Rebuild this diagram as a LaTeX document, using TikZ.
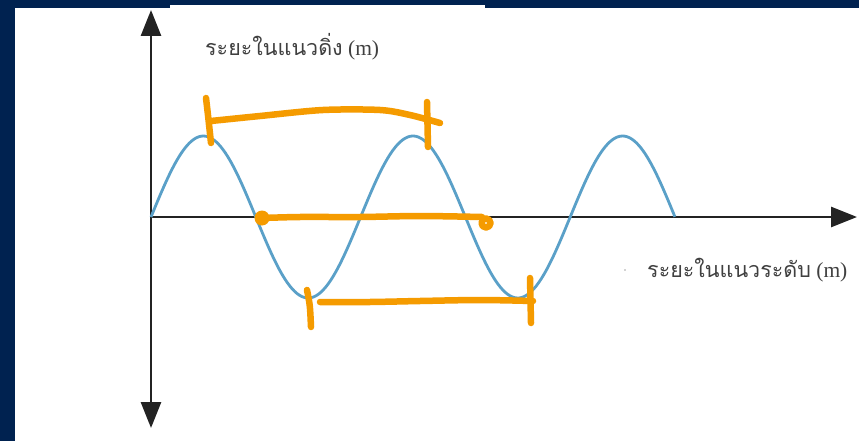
\documentclass[tikz,border=0pt]{standalone}
\usepackage{fontspec}
\setmainfont{Liberation Serif}
\newfontfamily\thaifont[Script=Thai]{Loma}
\usetikzlibrary{arrows.meta}
\definecolor{navy}{RGB}{0,34,80}
\definecolor{wavecol}{RGB}{90,160,200}
\definecolor{ink}{RGB}{245,155,0}
\definecolor{axiscol}{RGB}{35,35,35}
\tikzset{
  axis/.style={draw=axiscol, line width=2.8pt, -{Triangle[length=26pt,width=20pt]}},
  wave/.style={draw=wavecol, line width=2.8pt},
  pen/.style={draw=ink, line width=6.5pt, line cap=round, line join=round},
  lbl/.style={font=\fontsize{21.5}{24}\selectfont, text=black!75, inner sep=0pt, anchor=base west}
}
\begin{document}
\begin{tikzpicture}[x=1pt,y=-1pt]
\useasboundingbox (0,0) rectangle (859,441);
\fill[navy] (0,0) rectangle (859,441);
\fill[white] (15,8) rectangle (859,441);
\fill[white] (170,5) rectangle (485,8);
% axes
\coordinate (O) at (151,217);
\coordinate (ytop) at (151,10);
\coordinate (ybot) at (151,428);
\coordinate (xend) at (857,217);
\draw[axis] (O) -- (ytop);
\draw[axis] (O) -- (ybot);
\draw[axis] (O) -- (xend);
% wave
\draw[wave] plot[domain=0:2.5, samples=220, smooth] ({151+209.6*\x},{217-81*sin(360*\x)});
% labels
\node[lbl] (ylab) at (205,56) {{\thaifont ระยะในแนวดิ่ง} (m)};
\node[lbl] (xlab) at (647,277) {{\thaifont ระยะในแนวระดับ} (m)};
\fill[black!35] (625,270) circle (0.9);
% top bracket
\draw[pen] (206,98) .. controls (208,115) .. (211,143);
\draw[pen] plot[smooth] coordinates {(211,121) (260,116) (323,110) (380,110) (410,115) (440,123)};
\draw[pen] (427,102) -- (428,147);
% middle line
\fill[ink] (262,218) circle (7.5);
\draw[pen] plot[smooth] coordinates {(262,218) (300,217) (360,217) (420,216) (482,217)};
\draw[pen] (486,223) circle (4.5);
% bottom bracket
\draw[pen] (307,290) .. controls (310,305) .. (311,327);
\draw[pen] plot[smooth] coordinates {(320,302) (370,302) (420,301) (480,300) (533,301)};
\draw[pen] (530,278) -- (531,323);
\end{tikzpicture}
\end{document}
